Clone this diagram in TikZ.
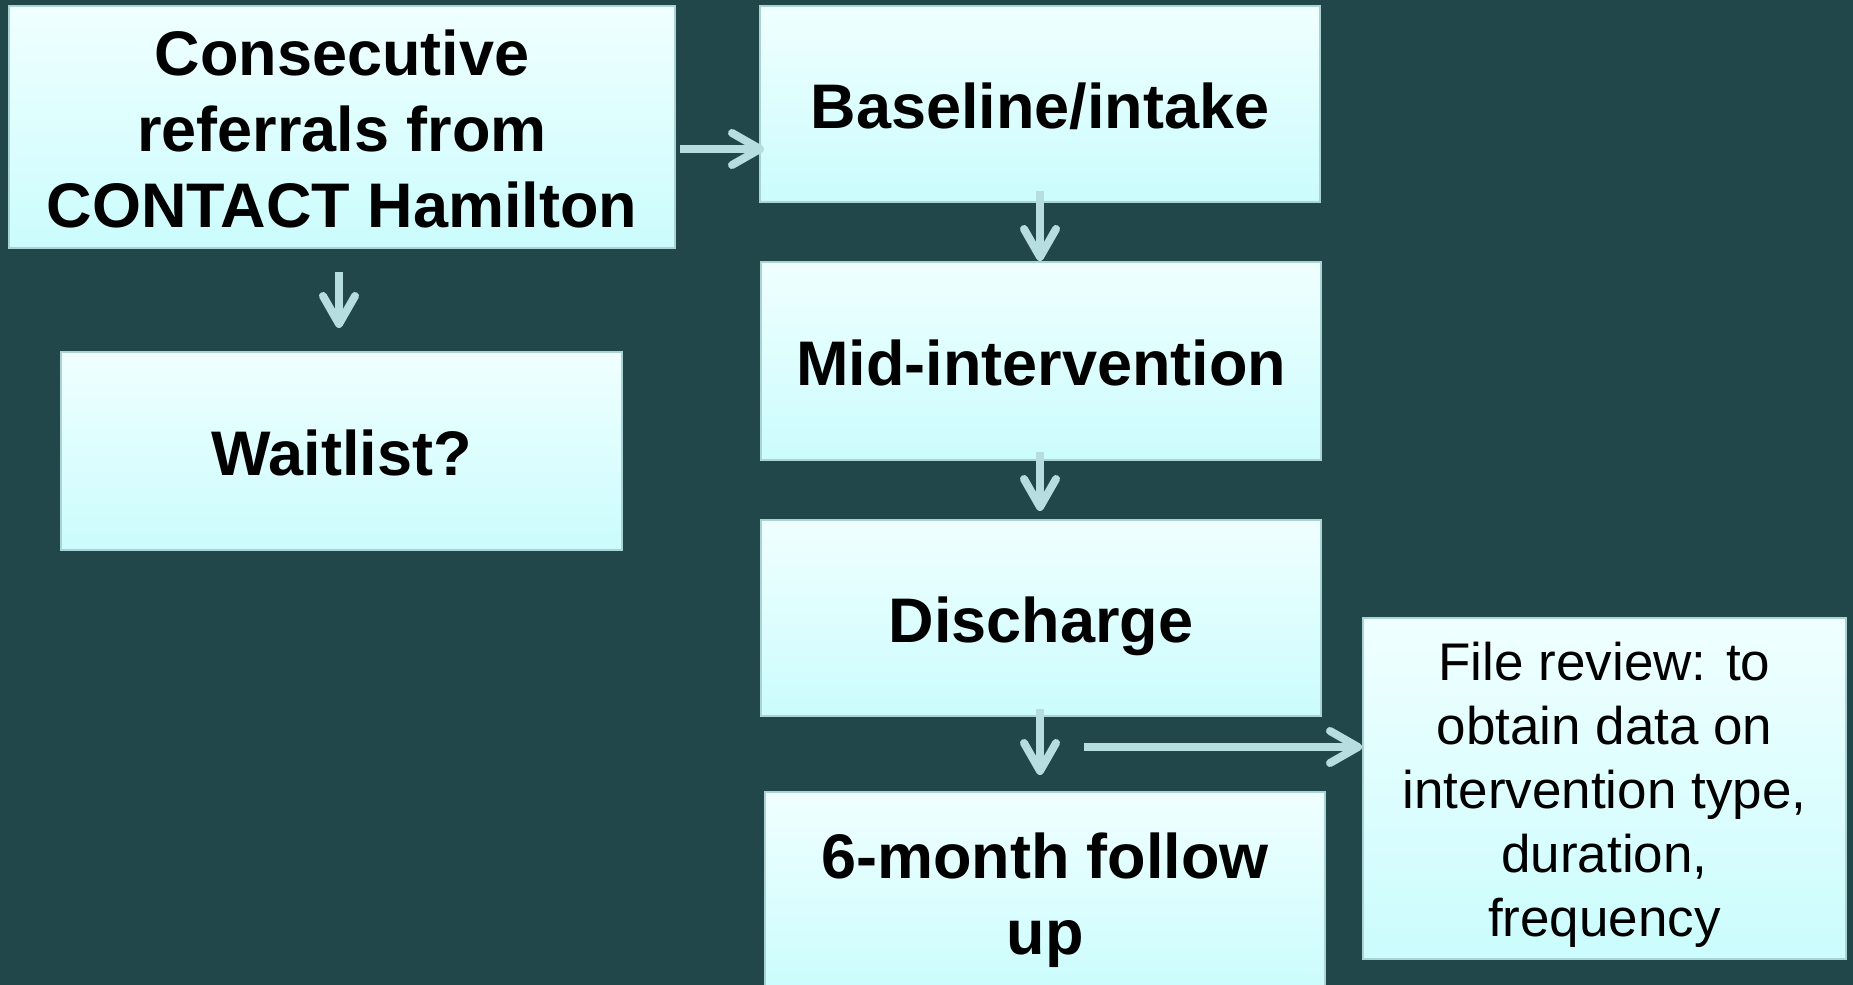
\documentclass[tikz,border=0pt]{standalone}
\usepackage{fontspec}
\setmainfont{Liberation Sans}
\usetikzlibrary{arrows.meta}
\definecolor{bgc}{HTML}{21474A}
\definecolor{arrc}{HTML}{B6DDDF}
\definecolor{bordc}{HTML}{A9D3D4}
\definecolor{topc}{HTML}{F0FFFF}
\definecolor{botc}{HTML}{CBFCFD}
\newcommand{\bigstr}{\rule[-14pt]{0pt}{76pt}}
\newcommand{\smallstr}{\rule[-12pt]{0pt}{64pt}}
\begin{document}
\begin{tikzpicture}[x=1pt,y=-1pt,
  boxstyle/.style={draw=bordc,line width=2pt,top color=topc,bottom color=botc,
    inner sep=0pt,align=center,text=black},
  bigtext/.style={font=\fontsize{63}{76}\selectfont\bfseries},
  smalltext/.style={font=\fontsize{53}{64}\selectfont},
  flow/.style={draw=arrc,line width=8pt,
    -{Straight Barb[length=28pt,width=32pt,round]}}]
\fill[bgc] (0,0) rectangle (1853,985);
\useasboundingbox (0,0) rectangle (1853,985);
\clip (0,0) rectangle (1853,985);
\node[boxstyle,bigtext,minimum width=666pt,minimum height=242pt] (b1) at (342,127)
  {\bigstr Consecutive\\referrals from\\CONTACT Hamilton\bigstr};
\node[boxstyle,bigtext,minimum width=561pt,minimum height=198pt] (wait) at (341.5,451)
  {\bigstr Waitlist?\bigstr};
\node[boxstyle,bigtext,minimum width=560pt,minimum height=196pt] (base) at (1040,104)
  {\bigstr Baseline/intake\bigstr};
\node[boxstyle,bigtext,minimum width=560pt,minimum height=198pt] (mid) at (1041,361)
  {\bigstr Mid-intervention\bigstr};
\node[boxstyle,bigtext,minimum width=560pt,minimum height=196pt] (dis) at (1041,618)
  {\bigstr Discharge\bigstr};
\node[boxstyle,bigtext,minimum width=560pt,minimum height=200pt] (six) at (1045,892)
  {\bigstr 6-month follow\\up\bigstr};
\node[boxstyle,smalltext,minimum width=483pt,minimum height=341pt] (fr) at (1604.5,788.5)
  {\smallstr File review: to\\obtain data on\\intervention type,\\duration,\\frequency\smallstr};
\coordinate (ha) at (680,149);
\coordinate (hs) at (1084,747);
\draw[flow,shorten >=-5pt] (ha) -- (ha -| base.west);
\draw[flow,shorten <=23pt,shorten >=23pt] ([xshift=-3pt]b1.south) -- ([xshift=-2.5pt]wait.north);
\draw[flow,shorten <=-12pt] (base.south) -- ([xshift=-1pt]mid.north);
\draw[flow,shorten <=-9pt,shorten >=8pt] ([xshift=-1pt]mid.south) -- ([xshift=-1pt]dis.north);
\draw[flow,shorten <=-8pt,shorten >=16pt] ([xshift=-1pt]dis.south) -- ([xshift=-5pt]six.north);
\draw[flow] (hs) -- (hs -| fr.west);
\end{tikzpicture}
\end{document}
